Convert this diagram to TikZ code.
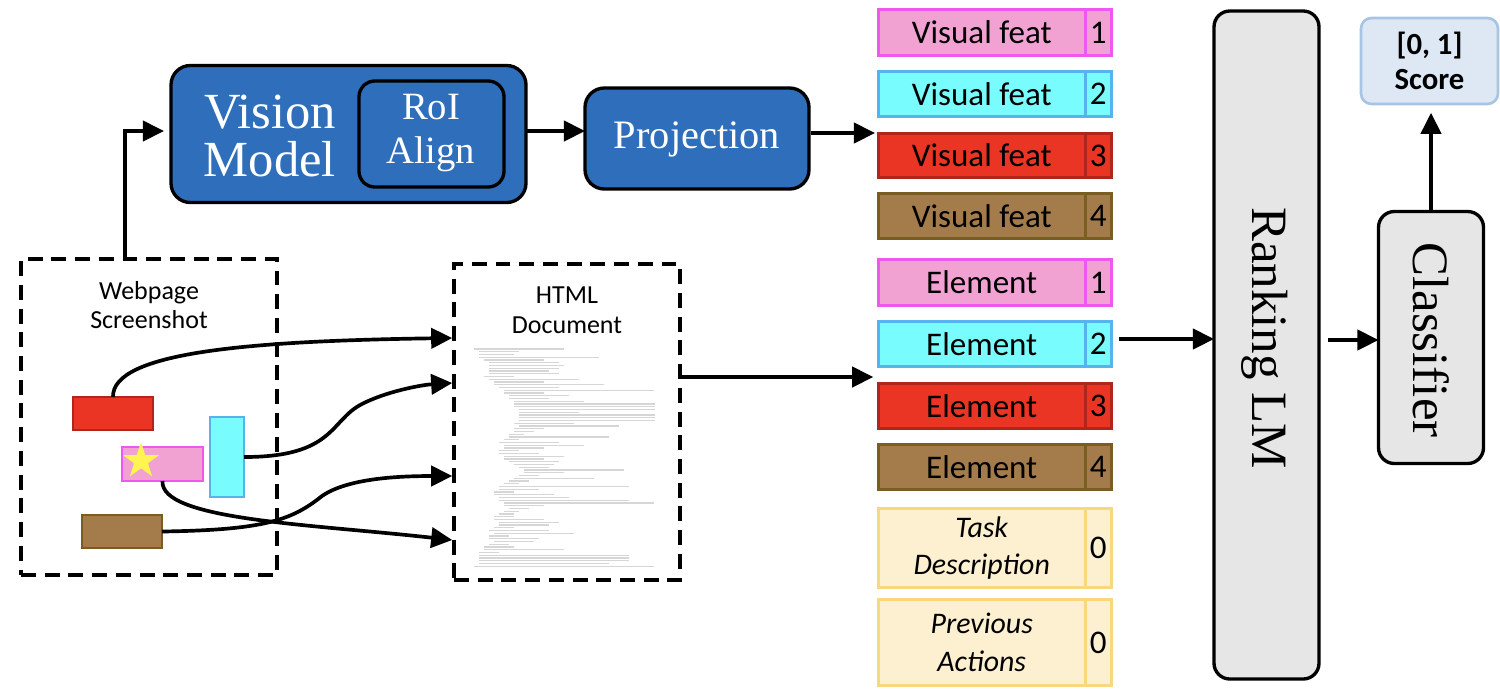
\documentclass[tikz,border=0pt]{standalone}
\usepackage{fontspec}
\setmainfont{Liberation Serif}
\newfontfamily\calfont{Carlito}
\usetikzlibrary{arrows.meta,shapes.geometric}

\definecolor{vmblue}{HTML}{2F6EBA}
\definecolor{pinkfill}{HTML}{F1A2D2}
\definecolor{pinkline}{HTML}{EE58EE}
\definecolor{cyanfill}{HTML}{78FCFD}
\definecolor{cyanline}{HTML}{56B3EE}
\definecolor{redfill}{HTML}{EA3424}
\definecolor{redline}{HTML}{B1261C}
\definecolor{brownfill}{HTML}{A47C4B}
\definecolor{brownline}{HTML}{7A5D20}
\definecolor{taskfill}{HTML}{FCF0D0}
\definecolor{taskline}{HTML}{F7D87C}
\definecolor{lmgray}{HTML}{E6E6E6}
\definecolor{scorefill}{HTML}{DEE8F4}
\definecolor{scoreline}{HTML}{A8C4E4}
\definecolor{starfill}{HTML}{FFF450}

% one row of the input sequence: label box plus index box
% #1 name, #2 top, #3 height, #4 fill, #5 border, #6 label, #7 index
\newcommand\tokenrow[7]{%
  \node[tok={#4}{#5}, sz={206.5}{#3}, anchor=north west] (#1) at (878.5,#2) {#6};
  \node[tok={#4}{#5}, sz={26.5}{#3}, anchor=north west] (#1n) at (1085,#2) {#7};
}

\begin{document}
\begin{tikzpicture}[x=0.02cm,y=-0.02cm,
  sz/.style 2 args={minimum width=#1*0.02cm, minimum height=#2*0.02cm, inner sep=0pt, outer sep=0pt},
  tok/.style 2 args={draw=#2, fill=#1, line width=1.7pt,
    font=\calfont\fontsize{18.8}{21.6}\selectfont, align=center},
  bluebox/.style={draw=black, fill=vmblue, line width=1.9pt, rounded corners=11pt,
    text=white},
  graybox/.style={draw=black, fill=lmgray, line width=1.9pt, rounded corners=9pt},
  dashbox/.style={draw=black, line width=2.2pt, dash pattern=on 8.5pt off 5pt},
  elem/.style 2 args={draw=#2, fill=#1, line width=1.5pt},
  arr/.style={line width=2.1pt, -{Triangle[length=12pt,width=11.5pt]}},
  link/.style={line width=2.1pt, -{Triangle[length=12pt,width=11.5pt]}},
  codeline/.style={draw=black!16, line width=0.6pt}
]
\useasboundingbox (0,0) rectangle (1500,698);

% ---------- vision branch ----------
\node[bluebox, sz={355}{137}, anchor=north west] (vm) at (171,65.5) {};
\node[text=white, align=center, font=\fontsize{28.8}{27.3}\selectfont] (vmtxt) at (270,136) {Vision\\Model};
\node[draw=black, line width=1.9pt, rounded corners=9pt, sz={145}{106}, anchor=north west] (roi) at (359,81) {};
\node[text=white, align=center, font=\fontsize{22}{25.6}\selectfont] (roitxt) at (431,133) {RoI\\Align};
\node[bluebox, sz={224}{101}, anchor=north west] (proj) at (585,88) {};
\node[text=white, font=\fontsize{23}{26}\selectfont] (projtxt) at (697,139) {Projection};

% ---------- webpage screenshot ----------
\node[dashbox, sz={256}{316}, anchor=north west] (web) at (21,259) {};
\node[align=center, font=\calfont\fontsize{14.8}{17}\selectfont] (webtxt) at (149,305) {Webpage\\Screenshot};
\node[elem={redfill}{redline}, sz={80}{33}, anchor=north west] (rred) at (73,397) {};
\node[elem={pinkfill}{pinkline}, sz={81}{34}, anchor=north west] (rpink) at (122,447) {};
\node[elem={cyanfill}{cyanline}, sz={34}{80}, anchor=north west] (rcyan) at (210,417) {};
\node[elem={brownfill}{brownline}, sz={80}{33}, anchor=north west] (rbrown) at (82,515) {};
\node[star, star points=5, star point ratio=2.6, fill=starfill, sz={38}{38}] (target) at (141,461) {};

% ---------- HTML document ----------
\node[dashbox, sz={226}{316}, anchor=north west] (html) at (454,264) {};
\node[align=center, font=\calfont\fontsize{14.8}{17}\selectfont] (htmltxt) at (567,310) {HTML\\Document};
% source listing, shown as faint indented lines of markup
\foreach \d/\l [count=\k from 0] in {0/90, 1/40, 1/35, 1/120, 2/60, 3/70, 3/75, 3/70, 3/60, 3/70,
    2/30, 3/90, 4/50, 4/110, 5/60, 6/150, 6/40, 7/60, 7/40, 8/70, 8/150, 8/150, 9/150, 9/60,
    9/150, 9/140, 9/150, 8/60, 9/100, 8/30, 8/20, 7/15, 7/100, 6/15, 5/60, 6/80, 6/40, 5/20,
    5/40, 6/60, 6/40, 7/50, 8/40, 9/30, 10/100, 10/40, 9/20, 8/80, 7/20, 6/15, 5/130, 5/40,
    4/20, 4/60, 5/70, 5/130, 6/150, 6/40, 7/20, 6/15, 5/15, 4/20, 4/50, 5/60, 5/50, 4/20,
    3/60, 4/80, 3/20, 3/50, 4/40, 3/20, 2/30, 2/80, 1/20, 1/150, 1/150, 1/150, 1/130, 0/180} {
  \pgfmathsetmacro\yy{349+2.75*\k}
  \pgfmathsetmacro\xx{474+5*\d}
  \pgfmathsetmacro\ll{min(\l,655-\xx)}
  \draw[codeline] (\xx,\yy) -- ++(\ll,0);
}

% ---------- input sequence ----------
\tokenrow{vf1}{9.5}{46}{pinkfill}{pinkline}{Visual feat}{1}
\tokenrow{vf2}{71.5}{45}{cyanfill}{cyanline}{Visual feat}{2}
\tokenrow{vf3}{133.5}{44}{redfill}{redline}{Visual feat}{3}
\tokenrow{vf4}{193.5}{45}{brownfill}{brownline}{Visual feat}{4}
\tokenrow{el1}{259.5}{46}{pinkfill}{pinkline}{Element}{1}
\tokenrow{el2}{321.5}{45}{cyanfill}{cyanline}{Element}{2}
\tokenrow{el3}{383.5}{45}{redfill}{redline}{Element}{3}
\tokenrow{el4}{444.5}{45}{brownfill}{brownline}{Element}{4}
\tokenrow{task}{508.5}{79}{taskfill}{taskline}{\itshape\fontsize{17}{21.6}\selectfont Task\\\itshape\fontsize{17}{21.6}\selectfont Description}{0}
\tokenrow{prev}{599.5}{86}{taskfill}{taskline}{\itshape\fontsize{17}{21.6}\selectfont Previous\\\itshape\fontsize{17}{21.6}\selectfont Actions}{0}

% ---------- ranking model and classifier ----------
\node[graybox, sz={105}{668}, anchor=north west] (lm) at (1214,11) {};
\node[rotate=-90, font=\fontsize{29}{32}\selectfont] (lmtxt) at (1265,338) {Ranking LM};
\node[graybox, sz={105}{252}, anchor=north west] (cls) at (1378.5,211.5) {};
\node[rotate=-90, font=\fontsize{29}{32}\selectfont] (clstxt) at (1431,340) {Classifier};
\node[draw=scoreline, fill=scorefill, line width=1.5pt, rounded corners=6pt,
  sz={137}{86}, anchor=north west, align=center,
  font=\calfont\bfseries\fontsize{17.5}{20}\selectfont] (score) at (1361,18) {[0, 1]\\Score};

% ---------- connectors ----------
\draw[arr] (web.north -| 125,0) |- ([xshift=-4pt]vm.west |- 0,131);
\draw[arr] (vm.east |- 0,131) -- (proj.west |- 0,131);
\draw[arr] ([xshift=1pt]proj.east |- 0,133) -- ([xshift=-2pt]vf3.west |- 0,133);
\draw[arr] ([xshift=-1pt]html.east |- 0,377) -- ([xshift=-3pt]el3.west |- 0,377);
\draw[arr, shorten <=4pt] (el2n.east |- 0,339) -- (lm.west |- 0,339);
\draw[arr, shorten <=5pt] (lm.east |- 0,340) -- (cls.west |- 0,340);
\draw[arr, shorten >=5pt] (cls.north) -- (score.south -| cls.north);

% element boxes to their spots in the HTML source
\draw[link] (rred.north) .. controls (112,352) and (250,341) .. ([xshift=-1pt]html.west |- 0,338);
\draw[link] (rcyan.east) .. controls (335,457) and (330,420) .. (362,404)
  .. controls (385,392) and (420,385) .. ([xshift=-1pt]html.west |- 0,383);
\draw[link] (rpink.south) .. controls (160,520) and (310,524) .. ([xshift=-1pt]html.west |- 0,540);
\draw[link] (rbrown.east) .. controls (265,530) and (292,520) .. (322,496)
  .. controls (348,478) and (400,476) .. ([xshift=-1pt]html.west |- 0,476);
\end{tikzpicture}
\end{document}
